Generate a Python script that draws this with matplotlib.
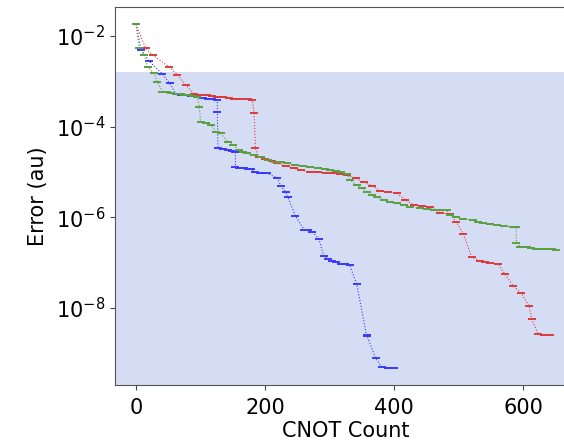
import matplotlib
matplotlib.use("Agg")
import matplotlib.pyplot as plt
import numpy as np
from matplotlib.ticker import FixedLocator, NullLocator, LogFormatterMathtext

# CNOT count vs. log10(error) for the three runs
blue_cnot = [0, 8, 20, 41, 52, 62, 70, 78, 85, 95, 104, 111, 118, 126, 126, 127, 135, 142,
             148, 154, 154, 160, 167, 173, 178, 185, 192, 198, 203, 219, 224, 232, 235, 247,
             260, 266, 273, 283, 291, 298, 304, 310, 317, 324, 331, 342, 357, 358, 371, 381,
             390, 399]
blue_log_err = [-1.74, -2.30, -2.55, -2.84, -3.04, -3.28, -3.30, -3.31, -3.32, -3.34, -3.36,
                -3.38, -3.40, -3.41, -3.68, -4.48, -4.50, -4.52, -4.54, -4.55, -4.90, -4.91,
                -4.92, -4.93, -4.94, -5.01, -5.02, -5.02, -5.03, -5.13, -5.30, -5.45, -5.55,
                -5.97, -6.27, -6.29, -6.32, -6.47, -6.86, -6.92, -6.96, -6.99, -7.02, -7.04,
                -7.06, -7.48, -8.60, -8.62, -9.11, -9.31, -9.32, -9.32]

red_cnot = [0, 15, 26, 51, 64, 77, 90, 100, 110, 118, 126, 135, 144, 152, 160, 168, 174, 180,
            183, 185, 190, 200, 210, 219, 232, 244, 256, 270, 282, 294, 306, 316, 327, 340,
            353, 365, 378, 390, 404, 417, 430, 443, 456, 471, 486, 496, 507, 520, 533, 541,
            548, 561, 571, 584, 597, 609, 613, 623, 632, 641]
red_log_err = [-1.74, -2.27, -2.42, -2.68, -2.85, -3.08, -3.28, -3.30, -3.31, -3.32, -3.34,
               -3.35, -3.37, -3.38, -3.39, -3.40, -3.40, -3.41, -3.69, -4.48, -4.66, -4.72,
               -4.76, -4.81, -4.87, -4.92, -4.96, -5.00, -5.01, -5.02, -5.03, -5.05, -5.07,
               -5.14, -5.23, -5.30, -5.41, -5.44, -5.47, -5.61, -5.73, -5.75, -5.77, -5.90,
               -5.93, -6.10, -6.37, -6.88, -6.96, -6.98, -7.00, -7.03, -7.25, -7.51, -7.68,
               -7.96, -8.25, -8.58, -8.59, -8.60]

green_cnot = [0, 5, 13, 18, 28, 33, 41, 48, 55, 62, 69, 75, 82, 88, 95, 98, 100, 108, 116,
              124, 131, 142, 150, 160, 166, 172, 182, 193, 205, 215, 225, 234, 246, 258, 270,
              282, 292, 301, 309, 317, 327, 332, 342, 350, 358, 366, 373, 384, 394, 404, 415,
              425, 440, 450, 461, 471, 481, 486, 496, 507, 522, 530, 538, 548, 559, 570, 584,
              589, 589, 595, 605, 612, 620, 628, 636, 644, 651]
green_log_err = [-1.74, -2.27, -2.42, -2.68, -2.82, -3.01, -3.23, -3.24, -3.26, -3.27, -3.28,
                 -3.30, -3.31, -3.32, -3.34, -3.56, -3.89, -3.92, -3.96, -4.11, -4.15, -4.33,
                 -4.40, -4.52, -4.56, -4.59, -4.63, -4.68, -4.74, -4.77, -4.79, -4.81, -4.84,
                 -4.86, -4.89, -4.91, -4.93, -4.96, -4.98, -5.00, -5.05, -5.18, -5.29, -5.36,
                 -5.44, -5.50, -5.55, -5.62, -5.66, -5.69, -5.73, -5.77, -5.80, -5.82, -5.84,
                 -5.84, -5.84, -5.95, -6.00, -6.04, -6.06, -6.10, -6.13, -6.15, -6.17, -6.19,
                 -6.21, -6.22, -6.56, -6.65, -6.66, -6.67, -6.69, -6.70, -6.71, -6.71, -6.72]

threshold = 1.6e-3  # chemical-accuracy style band

fig = plt.figure(figsize=(5.64, 4.47), dpi=100)
ax = fig.add_axes([115 / 564, 62 / 447, 462 / 564, 378 / 447])

series = [
    (blue_cnot, blue_log_err, "#3a3aff"),
    (red_cnot, red_log_err, "#dd3b3b"),
    (green_cnot, green_log_err, "#5aa040"),
]
for cnot, log_err, color in series:
    err = np.power(10.0, log_err)
    ax.plot(cnot, err, linestyle=":", linewidth=0.8, color=color,
            marker="_", markersize=6, markeredgewidth=1.4, zorder=3)

ax.set_yscale("log")
ax.set_xlim(-32.5, 683)
ax.set_ylim(10 ** -9.70, 10 ** -1.36)
ax.axhspan(10 ** -9.70, threshold, color="#d5ddf5", zorder=0, linewidth=0)

ax.xaxis.set_major_locator(FixedLocator([0, 200, 400, 600]))
ax.yaxis.set_major_locator(FixedLocator([1e-8, 1e-6, 1e-4, 1e-2]))
ax.yaxis.set_major_formatter(LogFormatterMathtext())
ax.yaxis.set_minor_locator(NullLocator())
ax.tick_params(labelsize=15, color="#444444")
ax.tick_params(axis="x", pad=6)

for s in ax.spines.values():
    s.set_color("#555555")

ax.set_xlabel("CNOT Count", fontsize=15, labelpad=2)
ax.set_ylabel("Error (au)", fontsize=15, labelpad=6)

fig.savefig("out.png", dpi=100)
